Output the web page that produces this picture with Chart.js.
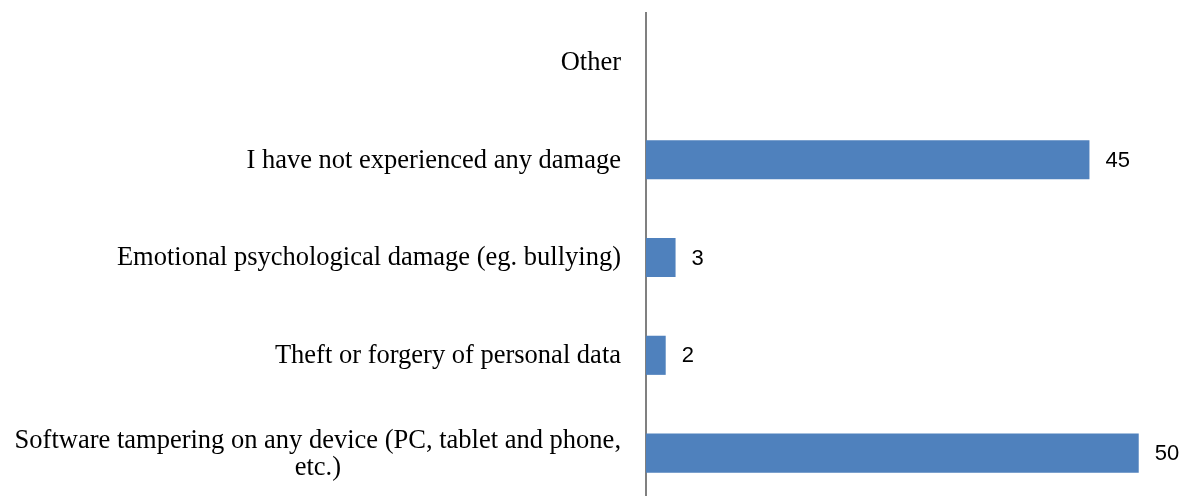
<!DOCTYPE html>
<html>
<head>
<meta charset="utf-8">
<script src="https://cdn.jsdelivr.net/npm/chart.js@4.4.0/dist/chart.umd.min.js"></script>
<style>
  html, body { margin: 0; padding: 0; background: #fff; overflow: hidden; }
  #wrap { position: absolute; left: 0; top: 0; width: 1191px; height: 506px; }
</style>
</head>
<body>
<div id="wrap"><canvas id="damageChart"></canvas></div>
<script>
// categories top to bottom
const categories = [
    'Other',
    'I have not experienced any damage',
    'Emotional psychological damage (eg. bullying)',
    'Theft or forgery of personal data',
    ['Software tampering on any device (PC, tablet and phone,', 'etc.)']
];
const values = [null, 45, 3, 2, 50];
const xMax = 55;

// category labels: right aligned, wrapped lines centred under the longest one
const categoryLabels = {
    id: 'categoryLabels',
    afterDraw(chart) {
        const c = chart.ctx;
        const yScale = chart.scales.y;
        const right = chart.chartArea.left - 25;
        const lineH = 27;
        c.save();
        c.font = '26.5px "Liberation Serif", "Times New Roman", serif';
        c.fillStyle = '#000';
        c.textBaseline = 'middle';
        categories.forEach((lab, i) => {
            const lines = Array.isArray(lab) ? lab : [lab];
            const y0 = yScale.getPixelForValue(i) + 1 - (lines.length - 1) * lineH / 2;
            const widest = Math.max(...lines.map(l => c.measureText(l).width));
            const mid = right - widest / 2;
            c.textAlign = 'center';
            lines.forEach((l, k) => c.fillText(l, mid, y0 + k * lineH));
        });
        c.restore();
    }
};

// value labels to the right of each bar
const valueLabels = {
    id: 'valueLabels',
    afterDatasetsDraw(chart) {
        const c = chart.ctx;
        const meta = chart.getDatasetMeta(0);
        c.save();
        c.font = '22px "Liberation Sans", Arial, sans-serif';
        c.fillStyle = '#000';
        c.textAlign = 'left';
        c.textBaseline = 'middle';
        meta.data.forEach((bar, i) => {
            if (values[i] == null) return;
            c.fillText(String(values[i]), bar.x + 16, bar.y + 1);
        });
        c.restore();
    }
};

const ctx = document.getElementById('damageChart').getContext('2d');
const damageChart = new Chart(ctx, {
    type: 'bar',
    data: {
        labels: categories,
        datasets: [{
            data: values,
            backgroundColor: '#4F81BD',
            borderWidth: 0,
            barPercentage: 0.4,
            categoryPercentage: 1
        }]
    },
    options: {
        indexAxis: 'y',
        responsive: true,
        maintainAspectRatio: false,
        animation: false,
        layout: { padding: { left: 638, top: 13, bottom: 4, right: 3 } },
        plugins: { legend: { display: false }, tooltip: { enabled: false } },
        scales: {
            x: { display: false, min: 0, max: xMax },
            y: {
                ticks: { display: false },
                grid: { display: false },
                border: { display: true, color: '#808080', width: 2 }
            }
        }
    },
    plugins: [categoryLabels, valueLabels]
});
</script>
</body>
</html>
